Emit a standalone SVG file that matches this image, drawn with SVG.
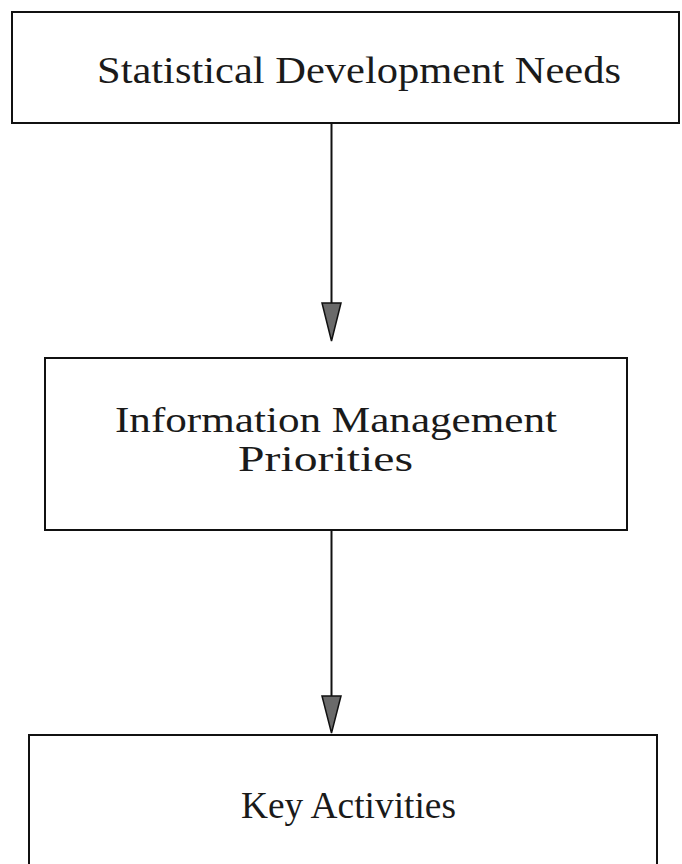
<svg xmlns="http://www.w3.org/2000/svg" width="682" height="864" viewBox="0 0 682 864">
<style>
.box{fill:#fff;stroke:#111;stroke-width:2}
.lbl{font-family:"Liberation Serif","Times New Roman",serif;font-size:38px;fill:#1a1a1a}
.mid{font-size:35px}
.conn{stroke:#111;stroke-width:2;fill:none}
.head{fill:#6a6a6a;stroke:#111;stroke-width:1.5;stroke-linejoin:miter}
</style>
<rect width="682" height="864" fill="#fff"/>
<g id="connectors">
<line class="conn" x1="331.5" y1="123" x2="331.5" y2="304"/>
<polygon class="head" points="322,303 341,303 331.5,341"/>
<line class="conn" x1="331.5" y1="530" x2="331.5" y2="697"/>
<polygon class="head" points="322,696 341,696 331.5,733"/>
</g>
<g id="node-statistical">
<rect class="box" x="12" y="12" width="667" height="111"/>
<text class="lbl" x="97" y="83" textLength="524" lengthAdjust="spacingAndGlyphs">Statistical Development Needs</text>
</g>
<g id="node-information">
<rect class="box" x="45" y="358" width="582" height="172"/>
<text class="lbl mid" x="115" y="432" textLength="442" lengthAdjust="spacingAndGlyphs">Information Management</text>
<text class="lbl mid" x="238" y="471" textLength="175" lengthAdjust="spacingAndGlyphs">Priorities</text>
</g>
<g id="node-key">
<rect class="box" x="29" y="735" width="628" height="140"/>
<text class="lbl" x="241" y="818" textLength="215" lengthAdjust="spacingAndGlyphs">Key Activities</text>
</g>
</svg>
